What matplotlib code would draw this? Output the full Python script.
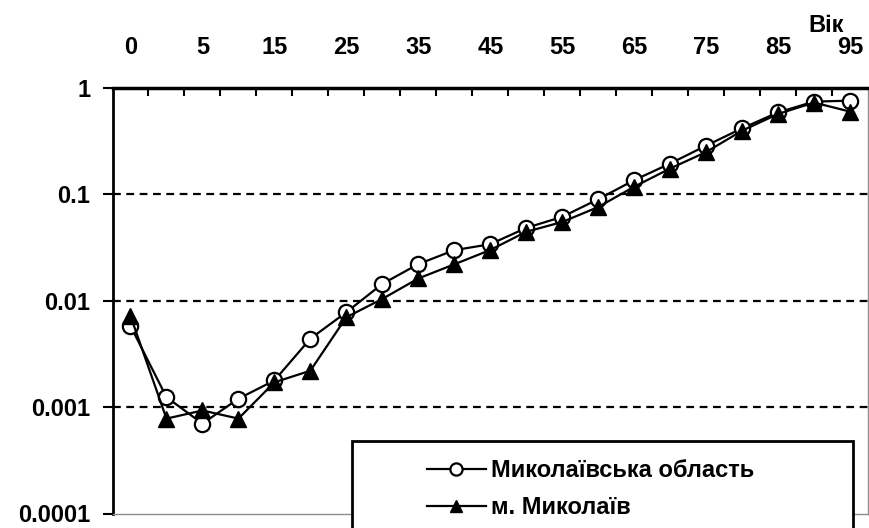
import matplotlib
matplotlib.use("Agg")
import matplotlib.pyplot as plt
import numpy as np
from matplotlib.ticker import FixedLocator, FixedFormatter, NullLocator
from matplotlib.patches import Rectangle

plt.rcParams['font.family'] = ['Liberation Sans', 'DejaVu Sans']
plt.rcParams['font.weight'] = 'bold'

# age groups (category axis)
ages = ['0', '1', '5', '10', '15', '20', '25', '30', '35', '40', '45',
        '50', '55', '60', '65', '70', '75', '80', '85', '90', '95']

# mortality rates
oblast = [0.0058, 0.00124, 0.0007, 0.0012, 0.00178, 0.0044, 0.0078, 0.0144,
          0.0221, 0.0299, 0.034, 0.0484, 0.0615, 0.09, 0.136, 0.195, 0.287,
          0.418, 0.59, 0.745, 0.76]
city = [0.0072, 0.00078, 0.00093, 0.00078, 0.00171, 0.0022, 0.0070, 0.0104,
        0.0162, 0.022, 0.030, 0.0445, 0.055, 0.076, 0.118, 0.175, 0.25,
        0.397, 0.57, 0.73, 0.60]

label_oblast = 'Миколаївська область'
label_city = 'м. Миколаїв'

y_ticks = [1, 0.1, 0.01, 0.001, 0.0001]
y_tick_labels = ['1', '0.1', '0.01', '0.001', '0.0001']
grid_levels = [0.1, 0.01, 0.001]

FS = 17
W, H = 869, 528
fig = plt.figure(figsize=(W / 100, H / 100), dpi=100)
ax = fig.add_axes([112.5 / W, 1 - 513.5 / H, (868 - 112.5) / W, (513.5 - 88) / H])

x = np.arange(len(ages))
ax.plot(x, oblast, color='black', lw=1.6, marker='o', markersize=11,
        markerfacecolor='white', markeredgecolor='black', markeredgewidth=1.6,
        label=label_oblast, zorder=3)
ax.plot(x, city, color='black', lw=1.6, marker='^', markersize=11,
        markerfacecolor='black', markeredgecolor='black',
        label=label_city, zorder=4)

ax.set_yscale('log')
ax.set_ylim(0.0001, 1)
ax.set_xlim(-0.5, len(ages) - 0.5)

for g in grid_levels:
    ax.axhline(g, color='black', lw=1.6, ls=(0, (3.5, 2.5)), zorder=1)

# y axis
ax.yaxis.set_major_locator(FixedLocator(y_ticks))
ax.yaxis.set_major_formatter(FixedFormatter(y_tick_labels))
ax.yaxis.set_minor_locator(NullLocator())
ax.tick_params(axis='y', direction='out', length=7, width=1.5, pad=9,
               labelsize=FS, colors='black')

# x axis on top, labels on every other category
ax.xaxis.tick_top()
ax.xaxis.set_major_locator(FixedLocator(x[::2]))
ax.xaxis.set_major_formatter(FixedFormatter(ages[::2]))
ax.xaxis.set_minor_locator(FixedLocator(x[:-1] + 0.5))
ax.tick_params(axis='x', which='major', length=0, pad=21, labelsize=FS)
ax.tick_params(axis='x', which='minor', direction='in', length=6, width=1.5,
               top=True, bottom=False)

ax.spines['top'].set_linewidth(2.5)
ax.spines['left'].set_linewidth(2)
for s in ['bottom', 'right']:
    ax.spines[s].set_color('#8c8c8c')
    ax.spines[s].set_linewidth(1)

fig.text(826 / W, 1 - 26 / H, 'Вік', ha='center', va='center', fontsize=FS,
         fontweight='bold')

# legend box (bottom runs off the picture, as in the original)
box = Rectangle((352 / W, 1 - 560 / H), (853 - 352) / W, (560 - 441) / H,
                transform=fig.transFigure, facecolor='white', edgecolor='black',
                lw=2, zorder=5, clip_on=False)
ax.add_artist(box)
leg = ax.legend(loc='upper left', bbox_to_anchor=(408 / W, 1 - 440 / H),
                bbox_transform=fig.transFigure, frameon=False, fontsize=FS,
                handlelength=2.5, handletextpad=0.2, labelspacing=0.6,
                markerscale=0.8, borderpad=0.3)
leg.set_zorder(6)

fig.savefig('out.png', dpi=100)
